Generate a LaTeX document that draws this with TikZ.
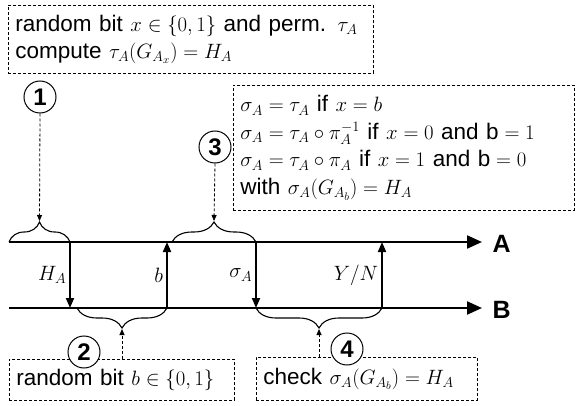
\documentclass[tikz,border=0pt]{standalone}
\usepackage{fontspec}
\setmainfont{Liberation Sans}
\usetikzlibrary{arrows.meta,decorations.pathreplacing}
\tikzset{
  x=1pt, y=1pt,
  txt/.style={font=\fontsize{22.5}{27.5}\selectfont},
  dbox/.style={draw, dashed, dash pattern=on 3pt off 2pt, line width=0.8pt, rectangle, inner xsep=7pt, inner ysep=4pt, align=left, txt, anchor=north west},
  num/.style={draw, circle, fill=white, line width=1pt, minimum size=32pt, inner sep=0pt, font=\fontsize{24}{24}\selectfont\bfseries},
  timeline/.style={line width=2.2pt, -{Triangle[length=15pt,width=13pt]}},
  msg/.style={line width=1.8pt, -{Triangle[length=10pt,width=8pt]}},
  hint/.style={dashed, dash pattern=on 3pt off 2pt, line width=0.8pt, -{Triangle[length=6pt,width=5pt]}},
  brc/.style={decorate, decoration={brace, amplitude=20pt}, line width=1.1pt},
  party/.style={font=\fontsize{25}{25}\selectfont\bfseries, anchor=west},
  lbl/.style={txt, left, inner sep=3pt}
}
\begin{document}
\begin{tikzpicture}
\useasboundingbox (0,0) rectangle (576,405);
% timelines
\coordinate (As) at (9,163);
\coordinate (Ae) at (482,163);
\coordinate (Bs) at (9,97);
\coordinate (Be) at (482,97);
\draw[timeline] (As) -- (Ae);
\draw[timeline] (Bs) -- (Be);
\node[party] (LA) at (489,161) {A};
\node[party] (LB) at (489,95) {B};
% message points
\coordinate (a1) at (70,163);  \coordinate (b1) at (70,97);
\coordinate (a2) at (167,163); \coordinate (b2) at (167,97);
\coordinate (a3) at (256,163); \coordinate (b3) at (256,97);
\coordinate (a4) at (382,163); \coordinate (b4) at (382,97);
\draw[msg] (a1) -- node[lbl] (m1) {$H_A$} (b1);
\draw[msg] (b2) -- node[lbl] (m2) {$b$} (a2);
\draw[msg] (a3) -- node[lbl] (m3) {$\sigma_A$} (b3);
\draw[msg] (b4) -- node[lbl] (m4) {$Y/N$} (a4);
% braces
\coordinate (s1) at (9,163);
\coordinate (s3) at (172,163);
\coordinate (s2) at (77,97);
\coordinate (s4) at (256,97);
\draw[brc] (s1) -- (a1);
\draw[brc] (s3) -- (a3);
\draw[brc] (b2) -- (s2);
\draw[brc] (b4) -- (s4);
\coordinate (t1) at (39.5,184);
\coordinate (t3) at (214,184);
\coordinate (t2) at (122,76);
\coordinate (t4) at (319,76);
% boxes
\node[dbox, minimum width=365pt, minimum height=68pt, text width=351pt] (box1) at (8,400)
  {random bit $x\in\{0,1\}$ and perm. $\tau_A$\\compute $\tau_A\bigl(G_{A_x}\bigr)=H_A$};
\node[dbox, minimum width=341pt, minimum height=125pt, text width=327pt] (box3) at (233,320)
  {$\sigma_A=\tau_A$ if $x=b$\\
   $\sigma_A=\tau_A\circ\pi_A^{-1}$ if $x=0$ and $\mathrm{b}=1$\\
   $\sigma_A=\tau_A\circ\pi_A$ if $x=1$ and $\mathrm{b}=0$\\
   with $\sigma_A\bigl(G_{A_b}\bigr)=H_A$};
\node[dbox, minimum width=225pt, minimum height=41pt, text width=211pt] (box2) at (9,46)
  {random bit $b\in\{0,1\}$};
\node[dbox, minimum width=221pt, minimum height=43pt, text width=207pt] (box4) at (256,48)
  {check $\sigma_A(G_{A_b})=H_A$};
% numbered circles
\node[num] (c1) at (40,308) {1};
\node[num] (c3) at (215,258) {3};
\node[num] (c2) at (84,53) {2};
\node[num] (c4) at (347,56) {4};
% hint arrows
\draw[hint] (c1.south) -- (t1);
\draw[hint] (c3.south) -- (t3);
\draw[hint] (box2.north -| t2) -- (t2);
\draw[hint] (box4.north -| t4) -- (t4);
\end{tikzpicture}
\end{document}
